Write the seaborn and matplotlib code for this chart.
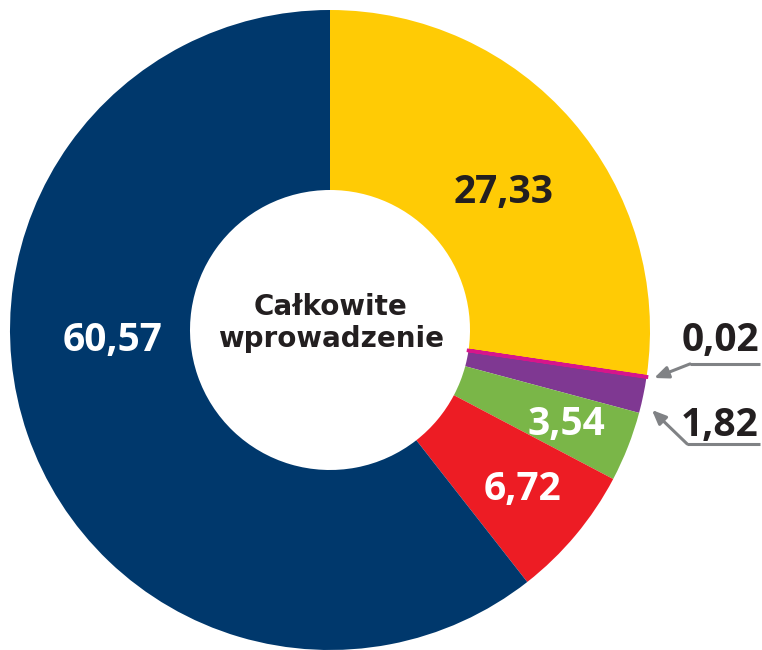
import matplotlib
matplotlib.use("Agg")
import matplotlib.pyplot as plt
import seaborn as sns

categories = ["A", "B", "C", "D", "E", "F"]
values = [27.33, 0.02, 1.82, 3.54, 6.72, 60.57]
labels = ["27,33", "0,02", "1,82", "3,54", "6,72", "60,57"]
colors = ["#FFCB05", "#D6168B", "#7F3892", "#7AB648", "#ED1C24", "#00386C"]
center_text = "Całkowite\nwprowadzenie"

sns.set_theme(style="white")
plt.rcParams['font.family'] = ['Open Sans', 'DejaVu Sans']

fig = plt.figure(figsize=(7.62, 6.5), dpi=100)
ax = fig.add_axes([0, 0, 1, 1])

wedges, _ = ax.pie(values, colors=colors, startangle=90, counterclock=False,
                   radius=1.0, wedgeprops=dict(width=1 - 140 / 320, linewidth=0))
# make the tiny slice visible
wedges[1].set_edgecolor(colors[1])
wedges[1].set_linewidth(2.5)
wedges[1].set_zorder(5)

ax.set_aspect("auto")
ax.set_xlim(-330 / 320, 432 / 320)
ax.set_ylim(-1.0, 330 / 320)
ax.axis("off")

txt_pos = {
    "27,33": (0.541, 0.431, "#231F20"),
    "60,57": (-0.678, -0.034, "white"),
    "6,72": (0.603, -0.497, "white"),
    "3,54": (0.7375, -0.294, "white"),
    "0,02": (1.219, -0.034, "#231F20"),
    "1,82": (1.219, -0.297, "#231F20"),
}
for lab in labels:
    x, y, c = txt_pos[lab]
    ax.text(x, y, lab, ha="center", va="center", fontsize=28, fontweight="bold", color=c)

ax.text(0.003, 0.022, center_text, ha="center", va="center", fontsize=20,
        fontweight="bold", color="#231F20", family=["DejaVu Sans"],
        linespacing=1.2)

grey = "#808285"
ax.plot([1.344, 1.125], [-0.106, -0.106], color=grey, lw=2.2, solid_capstyle="butt")
ax.annotate("", xy=(1.013, -0.150), xytext=(1.125, -0.106),
            arrowprops=dict(arrowstyle="-|>,head_length=0.7,head_width=0.3", color=grey, lw=2.2,
                            shrinkA=0, shrinkB=0))
ax.plot([1.344, 1.116], [-0.356, -0.356], color=grey, lw=2.2, solid_capstyle="butt")
ax.annotate("", xy=(1.006, -0.250), xytext=(1.116, -0.356),
            arrowprops=dict(arrowstyle="-|>,head_length=0.7,head_width=0.3", color=grey, lw=2.2,
                            shrinkA=0, shrinkB=0))

fig.savefig("out.png", dpi=100)
